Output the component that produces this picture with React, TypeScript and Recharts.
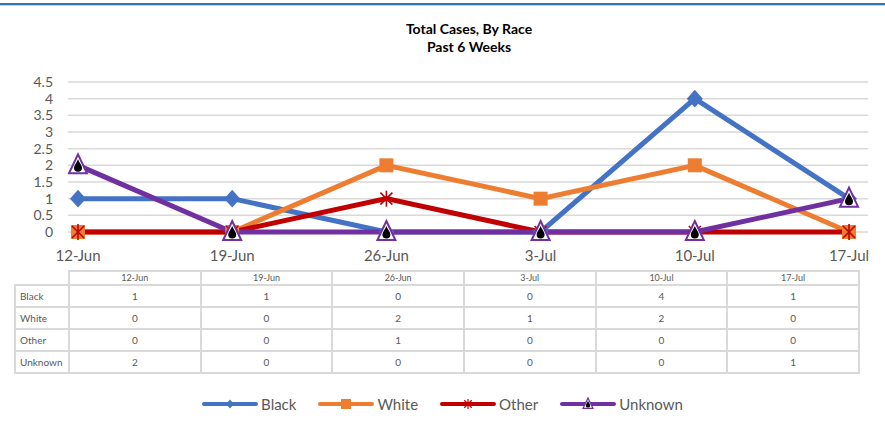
import React from "react";
import { CartesianGrid, Line, LineChart, XAxis, YAxis } from "recharts";

const weeks = ["12-Jun", "19-Jun", "26-Jun", "3-Jul", "10-Jul", "17-Jul"];
const black = [1, 1, 0, 0, 4, 1];
const white = [0, 0, 2, 1, 2, 0];
const other = [0, 0, 1, 0, 0, 0];
const unknown = [2, 0, 0, 0, 0, 1];
const yTicks = [0, 0.5, 1, 1.5, 2, 2.5, 3, 3.5, 4, 4.5];

const data = weeks.map((w, i) => ({
  week: w,
  Black: black[i],
  White: white[i],
  Other: other[i],
  Unknown: unknown[i],
}));

const FONT = "Lato, 'Open Sans', sans-serif";
const GRAY = "#595959";

const colors: Record<string, string> = {
  Black: "#4472C4",
  White: "#ED7D31",
  Other: "#C00000",
  Unknown: "#7030A0",
};

function diamond(cx: number, cy: number, s: number, key?: any) {
  return (
    <path
      key={key}
      d={`M${cx},${cy - s * 1.1} L${cx + s},${cy} L${cx},${cy + s * 1.1} L${cx - s},${cy} Z`}
      fill={colors.Black}
    />
  );
}

function square(cx: number, cy: number, s: number, key?: any) {
  return <rect key={key} x={cx - s} y={cy - s} width={s * 2} height={s * 2} fill={colors.White} />;
}

function star(cx: number, cy: number, s: number, key?: any, sw = 1.6) {
  const d = s * 0.75;
  return (
    <g key={key} stroke={colors.Other} strokeWidth={sw} fill="none">
      <line x1={cx - d} y1={cy - d} x2={cx + d} y2={cy + d} />
      <line x1={cx - d} y1={cy + d} x2={cx + d} y2={cy - d} />
      <line x1={cx} y1={cy - s} x2={cx} y2={cy + s} />
    </g>
  );
}

function triangle(cx: number, cy: number, s: number, key?: any, sw = 2) {
  const k = s / 9;
  return (
    <g key={key}>
      <path
        d={`M${cx},${cy - 11 * k} L${cx + 9 * k},${cy + 8 * k} L${cx - 9 * k},${cy + 8 * k} Z`}
        fill="#fff"
        stroke={colors.Unknown}
        strokeWidth={sw}
      />
      <path
        d={`M${cx},${cy - 6 * k} C${cx + 1 * k},${cy - 3 * k} ${cx + 4 * k},${cy} ${cx + 4 * k},${cy + 2.5 * k} A${4 * k} ${4 * k} 0 1 1 ${cx - 4 * k},${cy + 2.5 * k} C${cx - 4 * k},${cy} ${cx - 1 * k},${cy - 3 * k} ${cx},${cy - 6 * k} Z`}
        fill="#000"
      />
    </g>
  );
}

const markers: Record<string, (cx: number, cy: number, key?: any) => React.ReactElement> = {
  Black: (cx, cy, key) => diamond(cx, cy, 8, key),
  White: (cx, cy, key) => square(cx, cy, 7, key),
  Other: (cx, cy, key) => star(cx, cy, 8, key),
  Unknown: (cx, cy, key) => triangle(cx, cy, 9, key),
};

const legendMarkers: Record<string, React.ReactElement> = {
  Black: diamond(28, 8, 4),
  White: square(28, 8, 5),
  Other: star(28, 8, 5, undefined, 1.2),
  Unknown: triangle(28, 8, 5, undefined, 1.2),
};

const series = ["Black", "White", "Other", "Unknown"];
const seriesValues: Record<string, number[]> = { Black: black, White: white, Other: other, Unknown: unknown };

export default function App() {
  const cell: React.CSSProperties = {
    border: "2px solid #d9d9d9",
    textAlign: "center",
    padding: 0,
  };
  return (
    <div
      style={{
        position: "absolute",
        left: 0,
        top: 0,
        width: 885,
        height: 423,
        background: "#fff",
        fontFamily: FONT,
        overflow: "hidden",
      }}
    >
      <div style={{ position: "absolute", left: 0, top: 3, width: 885, height: 2, background: "#2e75b6" }} />
      <div style={{ position: "absolute", left: 0, top: 5, width: 885, height: 1, background: "#bdd7ee" }} />
      <div
        style={{
          position: "absolute",
          left: 0,
          top: 20,
          width: 938,
          textAlign: "center",
          fontWeight: 700,
          fontSize: 14,
          lineHeight: "18px",
          color: "#000",
        }}
      >
        Total Cases, By Race
        <br />
        Past 6 Weeks
      </div>

      <div style={{ position: "absolute", left: 0, top: 0 }}>
        <LineChart width={885} height={270} data={data} margin={{ top: 82, right: 17, bottom: 0, left: 0 }}>
          <CartesianGrid vertical={false} stroke="#d9d9d9" strokeWidth={1.5} />
          <XAxis
            dataKey="week"
            height={38}
            padding={{ left: 10, right: 19 }}
            axisLine={false}
            tickLine={false}
            tickSize={0}
            tickMargin={18}
            tick={{ fill: GRAY, fontSize: 15, fontFamily: FONT }}
            interval={0}
          />
          <YAxis
            width={68}
            domain={[0, 4.5]}
            ticks={yTicks}
            axisLine={false}
            tickLine={false}
            tickSize={0}
            tickMargin={15}
            tick={{ fill: GRAY, fontSize: 14, fontFamily: FONT }}
            interval={0}
          />
          {series.map((s) => (
            <Line
              key={s}
              type="linear"
              dataKey={s}
              stroke={colors[s]}
              strokeWidth={5}
              isAnimationActive={false}
              dot={(p: any) => markers[s](p.cx, p.cy, `${s}-${p.index}`)}
              activeDot={false}
            />
          ))}
        </LineChart>
      </div>

      <table
        style={{
          position: "absolute",
          left: 14,
          top: 270,
          width: 846,
          borderCollapse: "collapse",
          tableLayout: "fixed",
          color: GRAY,
          fontFamily: FONT,
        }}
      >
        <colgroup>
          <col style={{ width: 54 }} />
          {weeks.map((w) => (
            <col key={w} />
          ))}
        </colgroup>
        <tbody>
          <tr style={{ height: 14, fontSize: 9 }}>
            <td style={{ border: "none", padding: 0 }} />
            {weeks.map((w) => (
              <td key={w} style={{ ...cell, lineHeight: "10px" }}>
                {w}
              </td>
            ))}
          </tr>
          {series.map((s) => (
            <tr key={s} style={{ height: 22, fontSize: 10 }}>
              <td style={{ ...cell, textAlign: "left", paddingLeft: 4 }}>{s}</td>
              {seriesValues[s].map((v, i) => (
                <td key={i} style={cell}>
                  {v}
                </td>
              ))}
            </tr>
          ))}
        </tbody>
      </table>

      <div
        style={{
          position: "absolute",
          left: 0,
          top: 395,
          width: 885,
          display: "flex",
          justifyContent: "center",
          gap: 22,
          paddingLeft: 0,
        }}
      >
        {series.map((s) => (
          <div key={s} style={{ display: "flex", alignItems: "center", gap: 3 }}>
            <svg width={56} height={16}>
              <line x1={2} y1={8} x2={54} y2={8} stroke={colors[s]} strokeWidth={4} strokeLinecap="round" />
              {legendMarkers[s]}
            </svg>
            <span style={{ fontSize: 15, color: GRAY }}>{s}</span>
          </div>
        ))}
      </div>
    </div>
  );
}
